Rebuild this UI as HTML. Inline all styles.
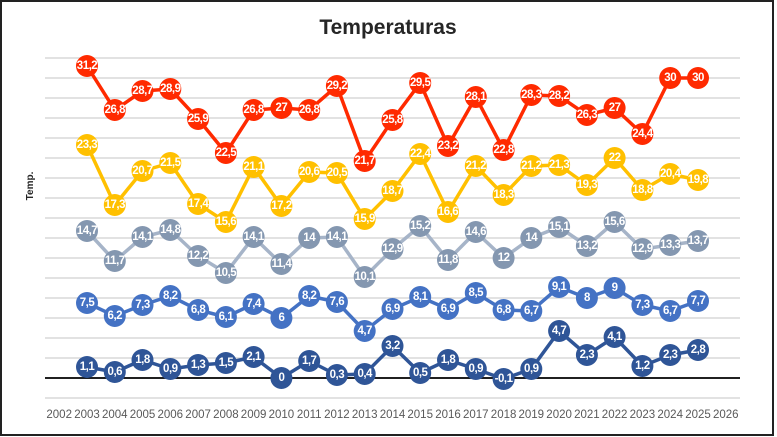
<!DOCTYPE html>
<html><head><meta charset="utf-8"><style>
html,body{margin:0;padding:0;background:#fff}
svg{display:block;font-family:"Liberation Sans",sans-serif}
.l text{fill:#fff;font-weight:bold;font-size:11.5px;text-anchor:middle;dominant-baseline:central;letter-spacing:-0.5px}
.ax text{fill:#595959;font-size:11.5px;text-anchor:middle}
</style></head><body>
<svg width="777" height="437" viewBox="0 0 777 437" xmlns="http://www.w3.org/2000/svg">
<rect x="1" y="1" width="772" height="434" fill="#fff" stroke="#222" stroke-width="2"/>
<text x="388" y="34" text-anchor="middle" font-size="21" font-weight="bold" fill="#262626">Temperaturas</text>
<text transform="translate(33,186) rotate(-90)" text-anchor="middle" font-size="10" font-weight="bold" fill="#262626">Temp.</text>
<g stroke="#d9d9d9" stroke-width="1.5">
<line x1="45" x2="740" y1="58" y2="58"/><line x1="45" x2="740" y1="78" y2="78"/><line x1="45" x2="740" y1="98" y2="98"/><line x1="45" x2="740" y1="118" y2="118"/><line x1="45" x2="740" y1="138" y2="138"/><line x1="45" x2="740" y1="158" y2="158"/><line x1="45" x2="740" y1="178" y2="178"/><line x1="45" x2="740" y1="198" y2="198"/><line x1="45" x2="740" y1="218" y2="218"/><line x1="45" x2="740" y1="238" y2="238"/><line x1="45" x2="740" y1="258" y2="258"/><line x1="45" x2="740" y1="278" y2="278"/><line x1="45" x2="740" y1="298" y2="298"/><line x1="45" x2="740" y1="318" y2="318"/><line x1="45" x2="740" y1="338" y2="338"/><line x1="45" x2="740" y1="358" y2="358"/><line x1="45" x2="740" y1="398" y2="398"/>
</g>
<line x1="45" x2="740" y1="378" y2="378" stroke="#000" stroke-width="1.8"/>
<g class="ax">
<text x="59.2" y="418">2002</text><text x="87" y="418">2003</text><text x="114.8" y="418">2004</text><text x="142.5" y="418">2005</text><text x="170.3" y="418">2006</text><text x="198.1" y="418">2007</text><text x="225.9" y="418">2008</text><text x="253.6" y="418">2009</text><text x="281.4" y="418">2010</text><text x="309.2" y="418">2011</text><text x="336.9" y="418">2012</text><text x="364.7" y="418">2013</text><text x="392.5" y="418">2014</text><text x="420.2" y="418">2015</text><text x="448" y="418">2016</text><text x="475.8" y="418">2017</text><text x="503.6" y="418">2018</text><text x="531.3" y="418">2019</text><text x="559.1" y="418">2020</text><text x="586.9" y="418">2021</text><text x="614.6" y="418">2022</text><text x="642.4" y="418">2023</text><text x="670.2" y="418">2024</text><text x="698" y="418">2025</text><text x="725.8" y="418">2026</text>
</g>

<polyline fill="none" stroke="#ff2a00" stroke-width="3.5" points="87,66 114.8,110 142.5,91 170.3,89 198.1,119 225.9,153 253.6,110 281.4,108 309.2,110 336.9,86 364.7,161 392.5,120 420.2,83 448,146 475.8,97 503.6,150 531.3,95 559.1,96 586.9,115 614.6,108 642.4,134 670.2,78 698,78"/>
<g class="l" fill="#ff2a00">
<circle cx="87" cy="66" r="11"/><text x="87" y="66">31,2</text>
<circle cx="114.8" cy="110" r="11"/><text x="114.8" y="110">26,8</text>
<circle cx="142.5" cy="91" r="11"/><text x="142.5" y="91">28,7</text>
<circle cx="170.3" cy="89" r="11"/><text x="170.3" y="89">28,9</text>
<circle cx="198.1" cy="119" r="11"/><text x="198.1" y="119">25,9</text>
<circle cx="225.9" cy="153" r="11"/><text x="225.9" y="153">22,5</text>
<circle cx="253.6" cy="110" r="11"/><text x="253.6" y="110">26,8</text>
<circle cx="281.4" cy="108" r="11"/><text x="281.4" y="108">27</text>
<circle cx="309.2" cy="110" r="11"/><text x="309.2" y="110">26,8</text>
<circle cx="336.9" cy="86" r="11"/><text x="336.9" y="86">29,2</text>
<circle cx="364.7" cy="161" r="11"/><text x="364.7" y="161">21,7</text>
<circle cx="392.5" cy="120" r="11"/><text x="392.5" y="120">25,8</text>
<circle cx="420.2" cy="83" r="11"/><text x="420.2" y="83">29,5</text>
<circle cx="448" cy="146" r="11"/><text x="448" y="146">23,2</text>
<circle cx="475.8" cy="97" r="11"/><text x="475.8" y="97">28,1</text>
<circle cx="503.6" cy="150" r="11"/><text x="503.6" y="150">22,8</text>
<circle cx="531.3" cy="95" r="11"/><text x="531.3" y="95">28,3</text>
<circle cx="559.1" cy="96" r="11"/><text x="559.1" y="96">28,2</text>
<circle cx="586.9" cy="115" r="11"/><text x="586.9" y="115">26,3</text>
<circle cx="614.6" cy="108" r="11"/><text x="614.6" y="108">27</text>
<circle cx="642.4" cy="134" r="11"/><text x="642.4" y="134">24,4</text>
<circle cx="670.2" cy="78" r="11"/><text x="670.2" y="78">30</text>
<circle cx="698" cy="78" r="11"/><text x="698" y="78">30</text>
</g>

<polyline fill="none" stroke="#ffc000" stroke-width="3.5" points="87,145 114.8,205 142.5,171 170.3,163 198.1,204 225.9,222 253.6,167 281.4,206 309.2,172 336.9,173 364.7,219 392.5,191 420.2,154 448,212 475.8,166 503.6,195 531.3,166 559.1,165 586.9,185 614.6,158 642.4,190 670.2,174 698,180"/>
<g class="l" fill="#ffc000">
<circle cx="87" cy="145" r="11"/><text x="87" y="145">23,3</text>
<circle cx="114.8" cy="205" r="11"/><text x="114.8" y="205">17,3</text>
<circle cx="142.5" cy="171" r="11"/><text x="142.5" y="171">20,7</text>
<circle cx="170.3" cy="163" r="11"/><text x="170.3" y="163">21,5</text>
<circle cx="198.1" cy="204" r="11"/><text x="198.1" y="204">17,4</text>
<circle cx="225.9" cy="222" r="11"/><text x="225.9" y="222">15,6</text>
<circle cx="253.6" cy="167" r="11"/><text x="253.6" y="167">21,1</text>
<circle cx="281.4" cy="206" r="11"/><text x="281.4" y="206">17,2</text>
<circle cx="309.2" cy="172" r="11"/><text x="309.2" y="172">20,6</text>
<circle cx="336.9" cy="173" r="11"/><text x="336.9" y="173">20,5</text>
<circle cx="364.7" cy="219" r="11"/><text x="364.7" y="219">15,9</text>
<circle cx="392.5" cy="191" r="11"/><text x="392.5" y="191">18,7</text>
<circle cx="420.2" cy="154" r="11"/><text x="420.2" y="154">22,4</text>
<circle cx="448" cy="212" r="11"/><text x="448" y="212">16,6</text>
<circle cx="475.8" cy="166" r="11"/><text x="475.8" y="166">21,2</text>
<circle cx="503.6" cy="195" r="11"/><text x="503.6" y="195">18,3</text>
<circle cx="531.3" cy="166" r="11"/><text x="531.3" y="166">21,2</text>
<circle cx="559.1" cy="165" r="11"/><text x="559.1" y="165">21,3</text>
<circle cx="586.9" cy="185" r="11"/><text x="586.9" y="185">19,3</text>
<circle cx="614.6" cy="158" r="11"/><text x="614.6" y="158">22</text>
<circle cx="642.4" cy="190" r="11"/><text x="642.4" y="190">18,8</text>
<circle cx="670.2" cy="174" r="11"/><text x="670.2" y="174">20,4</text>
<circle cx="698" cy="180" r="11"/><text x="698" y="180">19,8</text>
</g>

<polyline fill="none" stroke="#a6b4c8" stroke-width="3.5" points="87,231 114.8,261 142.5,237 170.3,230 198.1,256 225.9,273 253.6,237 281.4,264 309.2,238 336.9,237 364.7,277 392.5,249 420.2,226 448,260 475.8,232 503.6,258 531.3,238 559.1,227 586.9,246 614.6,222 642.4,249 670.2,245 698,241"/>
<g class="l" fill="#8497b0">
<circle cx="87" cy="231" r="11"/><text x="87" y="231">14,7</text>
<circle cx="114.8" cy="261" r="11"/><text x="114.8" y="261">11,7</text>
<circle cx="142.5" cy="237" r="11"/><text x="142.5" y="237">14,1</text>
<circle cx="170.3" cy="230" r="11"/><text x="170.3" y="230">14,8</text>
<circle cx="198.1" cy="256" r="11"/><text x="198.1" y="256">12,2</text>
<circle cx="225.9" cy="273" r="11"/><text x="225.9" y="273">10,5</text>
<circle cx="253.6" cy="237" r="11"/><text x="253.6" y="237">14,1</text>
<circle cx="281.4" cy="264" r="11"/><text x="281.4" y="264">11,4</text>
<circle cx="309.2" cy="238" r="11"/><text x="309.2" y="238">14</text>
<circle cx="336.9" cy="237" r="11"/><text x="336.9" y="237">14,1</text>
<circle cx="364.7" cy="277" r="11"/><text x="364.7" y="277">10,1</text>
<circle cx="392.5" cy="249" r="11"/><text x="392.5" y="249">12,9</text>
<circle cx="420.2" cy="226" r="11"/><text x="420.2" y="226">15,2</text>
<circle cx="448" cy="260" r="11"/><text x="448" y="260">11,8</text>
<circle cx="475.8" cy="232" r="11"/><text x="475.8" y="232">14,6</text>
<circle cx="503.6" cy="258" r="11"/><text x="503.6" y="258">12</text>
<circle cx="531.3" cy="238" r="11"/><text x="531.3" y="238">14</text>
<circle cx="559.1" cy="227" r="11"/><text x="559.1" y="227">15,1</text>
<circle cx="586.9" cy="246" r="11"/><text x="586.9" y="246">13,2</text>
<circle cx="614.6" cy="222" r="11"/><text x="614.6" y="222">15,6</text>
<circle cx="642.4" cy="249" r="11"/><text x="642.4" y="249">12,9</text>
<circle cx="670.2" cy="245" r="11"/><text x="670.2" y="245">13,3</text>
<circle cx="698" cy="241" r="11"/><text x="698" y="241">13,7</text>
</g>

<polyline fill="none" stroke="#4472c4" stroke-width="3.5" points="87,303 114.8,316 142.5,305 170.3,296 198.1,310 225.9,317 253.6,304 281.4,318 309.2,296 336.9,302 364.7,331 392.5,309 420.2,297 448,309 475.8,293 503.6,310 531.3,311 559.1,287 586.9,298 614.6,288 642.4,305 670.2,311 698,301"/>
<g class="l" fill="#4472c4">
<circle cx="87" cy="303" r="11"/><text x="87" y="303">7,5</text>
<circle cx="114.8" cy="316" r="11"/><text x="114.8" y="316">6,2</text>
<circle cx="142.5" cy="305" r="11"/><text x="142.5" y="305">7,3</text>
<circle cx="170.3" cy="296" r="11"/><text x="170.3" y="296">8,2</text>
<circle cx="198.1" cy="310" r="11"/><text x="198.1" y="310">6,8</text>
<circle cx="225.9" cy="317" r="11"/><text x="225.9" y="317">6,1</text>
<circle cx="253.6" cy="304" r="11"/><text x="253.6" y="304">7,4</text>
<circle cx="281.4" cy="318" r="11"/><text x="281.4" y="318">6</text>
<circle cx="309.2" cy="296" r="11"/><text x="309.2" y="296">8,2</text>
<circle cx="336.9" cy="302" r="11"/><text x="336.9" y="302">7,6</text>
<circle cx="364.7" cy="331" r="11"/><text x="364.7" y="331">4,7</text>
<circle cx="392.5" cy="309" r="11"/><text x="392.5" y="309">6,9</text>
<circle cx="420.2" cy="297" r="11"/><text x="420.2" y="297">8,1</text>
<circle cx="448" cy="309" r="11"/><text x="448" y="309">6,9</text>
<circle cx="475.8" cy="293" r="11"/><text x="475.8" y="293">8,5</text>
<circle cx="503.6" cy="310" r="11"/><text x="503.6" y="310">6,8</text>
<circle cx="531.3" cy="311" r="11"/><text x="531.3" y="311">6,7</text>
<circle cx="559.1" cy="287" r="11"/><text x="559.1" y="287">9,1</text>
<circle cx="586.9" cy="298" r="11"/><text x="586.9" y="298">8</text>
<circle cx="614.6" cy="288" r="11"/><text x="614.6" y="288">9</text>
<circle cx="642.4" cy="305" r="11"/><text x="642.4" y="305">7,3</text>
<circle cx="670.2" cy="311" r="11"/><text x="670.2" y="311">6,7</text>
<circle cx="698" cy="301" r="11"/><text x="698" y="301">7,7</text>
</g>

<polyline fill="none" stroke="#2f5597" stroke-width="3.5" points="87,367 114.8,372 142.5,360 170.3,369 198.1,365 225.9,363 253.6,357 281.4,378 309.2,361 336.9,375 364.7,374 392.5,346 420.2,373 448,360 475.8,369 503.6,379 531.3,369 559.1,331 586.9,355 614.6,337 642.4,366 670.2,355 698,350"/>
<g class="l" fill="#2f5597">
<circle cx="87" cy="367" r="11"/><text x="87" y="367">1,1</text>
<circle cx="114.8" cy="372" r="11"/><text x="114.8" y="372">0,6</text>
<circle cx="142.5" cy="360" r="11"/><text x="142.5" y="360">1,8</text>
<circle cx="170.3" cy="369" r="11"/><text x="170.3" y="369">0,9</text>
<circle cx="198.1" cy="365" r="11"/><text x="198.1" y="365">1,3</text>
<circle cx="225.9" cy="363" r="11"/><text x="225.9" y="363">1,5</text>
<circle cx="253.6" cy="357" r="11"/><text x="253.6" y="357">2,1</text>
<circle cx="281.4" cy="378" r="11"/><text x="281.4" y="378">0</text>
<circle cx="309.2" cy="361" r="11"/><text x="309.2" y="361">1,7</text>
<circle cx="336.9" cy="375" r="11"/><text x="336.9" y="375">0,3</text>
<circle cx="364.7" cy="374" r="11"/><text x="364.7" y="374">0,4</text>
<circle cx="392.5" cy="346" r="11"/><text x="392.5" y="346">3,2</text>
<circle cx="420.2" cy="373" r="11"/><text x="420.2" y="373">0,5</text>
<circle cx="448" cy="360" r="11"/><text x="448" y="360">1,8</text>
<circle cx="475.8" cy="369" r="11"/><text x="475.8" y="369">0,9</text>
<circle cx="503.6" cy="379" r="11"/><text x="503.6" y="379">-0,1</text>
<circle cx="531.3" cy="369" r="11"/><text x="531.3" y="369">0,9</text>
<circle cx="559.1" cy="331" r="11"/><text x="559.1" y="331">4,7</text>
<circle cx="586.9" cy="355" r="11"/><text x="586.9" y="355">2,3</text>
<circle cx="614.6" cy="337" r="11"/><text x="614.6" y="337">4,1</text>
<circle cx="642.4" cy="366" r="11"/><text x="642.4" y="366">1,2</text>
<circle cx="670.2" cy="355" r="11"/><text x="670.2" y="355">2,3</text>
<circle cx="698" cy="350" r="11"/><text x="698" y="350">2,8</text>
</g>
</svg>
</body></html>
